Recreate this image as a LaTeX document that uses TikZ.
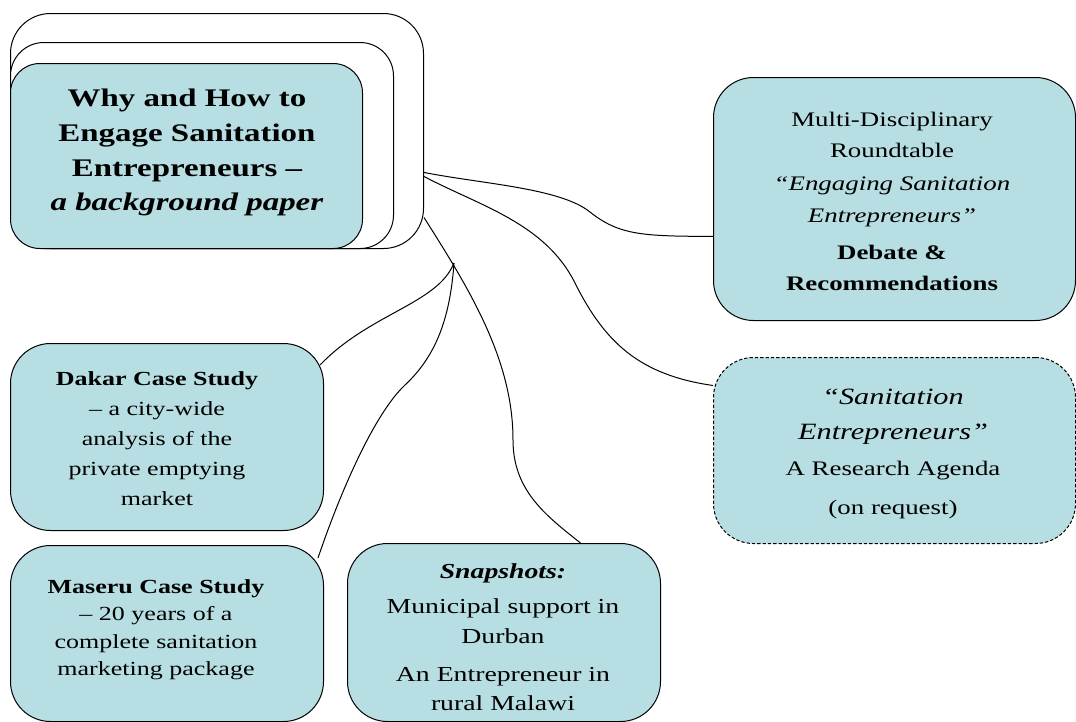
\documentclass[tikz,border=0pt]{standalone}
\usepackage{fontspec}
\setmainfont{Liberation Serif}[FakeStretch=1.3]
\definecolor{boxfill}{RGB}{183,222,226}
\begin{document}
\begin{tikzpicture}[x=0.75pt,y=-0.75pt,
  box/.style={draw=black, line width=0.75pt, fill=boxfill, inner sep=0pt, anchor=north west, rounded corners=30pt},
  plainbox/.style={box, fill=white},
  txt/.style={inner sep=0pt, align=center, anchor=north, text=black},
  conn/.style={draw=black, line width=0.75pt}]
\useasboundingbox (0,0) rectangle (1076,722);

% stacked boxes
\node[plainbox, rounded corners=30pt, minimum width=309.75pt, minimum height=176.25pt] (B) at (10,13) {};
\node[plainbox, rounded corners=25pt, minimum width=287.25pt, minimum height=154.5pt] (Mi) at (10,42) {};
\node[box, rounded corners=22pt, minimum width=264pt, minimum height=138.75pt] (F) at (10,63) {};

% other boxes
\node[box, minimum width=271.5pt, minimum height=182.25pt] (R) at (713,77) {};
\node[box, dashed, dash pattern=on 2.5pt off 1.5pt, minimum width=271.5pt, minimum height=139.5pt] (D) at (713,357) {};
\node[box, minimum width=234.75pt, minimum height=140.25pt] (K) at (10,343) {};
\node[box, minimum width=234.75pt, minimum height=132pt] (M) at (10,545) {};
\node[box, minimum width=234.75pt, minimum height=133.5pt] (S) at (347,543) {};

% texts
\node[txt, font={\fontsize{19}{26}\selectfont\bfseries}] (ttitle) at (187,89)
  {Why and How to\\Engage Sanitation\\Entrepreneurs –\\\textit{a background paper}};
\node[txt, font={\fontsize{15.5}{23.25}\selectfont}] (tR) at (892,112)
  {Multi-Disciplinary\\Roundtable\\[1.5pt]\textit{“Engaging Sanitation}\\[0.75pt]\textit{Entrepreneurs”}\\[4.5pt]\textbf{Debate \&}\\\textbf{Recommendations}};
\node[txt, font={\fontsize{17.5}{26.25}\selectfont\itshape}] (tD1) at (893,389)
  {“Sanitation\\Entrepreneurs”};
\node[txt, font={\fontsize{15.5}{29}\selectfont}] (tD2) at (893,461)
  {A Research Agenda\\(on request)};
\node[txt, font={\fontsize{15}{22.5}\selectfont}] (tK) at (157,371.5)
  {\textbf{Dakar Case Study}\\– a city-wide\\analysis of the\\private emptying\\market};
\node[txt, font={\fontsize{15}{20.4}\selectfont}] (tM) at (156,579.5)
  {\textbf{Maseru Case Study}\\– 20 years of a\\complete sanitation\\marketing package};
\node[txt, font={\fontsize{16}{22}\selectfont}] (tS) at (503,563)
  {\textbf{\textit{Snapshots:}}\\[4.9pt]Municipal support in\\Durban\\[6.4pt]An Entrepreneur in\\rural Malawi};

% connector end points
\coordinate (o1) at ([yshift=-31.1pt]B.east);
\coordinate (o2) at ([yshift=-34.1pt]B.east);
\coordinate (o3) at ([yshift=-64.9pt]B.east);
\coordinate (j) at (454,263);
\coordinate (r1) at ([yshift=-28.1pt]R.west);
\coordinate (d1) at ([yshift=48.75pt]D.west);
\coordinate (k1) at ([xshift=-3pt,yshift=-16.5pt]K.north east);
\coordinate (m1) at ([xshift=-4.5pt,yshift=-9.75pt]M.north east);
\coordinate (s1) at ([xshift=57.4pt]S.north);

% connectors
\draw[conn] (o1) .. controls (483,184) and (560,188) .. (590,212) .. controls (620,236) and (645,236) .. (r1);
\draw[conn] (o2) .. controls (480,206) and (545,223) .. (575,283) .. controls (605,343) and (640,375) .. (d1);
\draw[conn] (o3) .. controls (470,290) and (513,360) .. (513,440) .. controls (513,490) and (545,515) .. (s1);
\draw[conn] (j) .. controls (437.5,304) and (370,313) .. (k1);
\draw[conn] (j) .. controls (450,320) and (435,357) .. (405,385) .. controls (375,413) and (341,490) .. (m1);
\end{tikzpicture}
\end{document}
